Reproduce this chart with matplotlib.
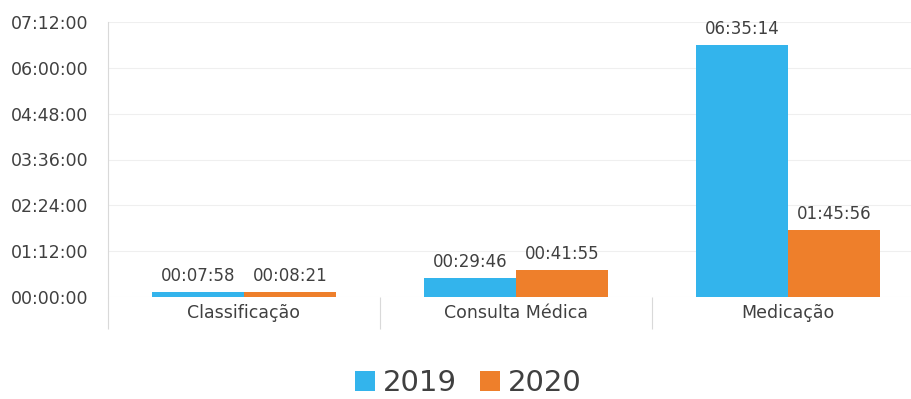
import matplotlib
matplotlib.use("Agg")
from matplotlib import pyplot as plt
from matplotlib.ticker import FixedLocator, FuncFormatter
import numpy as np

# Tempo médio por etapa (hh:mm:ss)
categorias = ["Classificação", "Consulta Médica", "Medicação"]
anos = ["2019", "2020"]
tempos_2019 = ["00:07:58", "00:29:46", "06:35:14"]
tempos_2020 = ["00:08:21", "00:41:55", "01:45:56"]
y_ticks = ["00:00:00", "01:12:00", "02:24:00", "03:36:00", "04:48:00", "06:00:00", "07:12:00"]

cores = ["#33b4ec", "#ee7f2b"]
cor_texto = "#404040"


def to_sec(t):
    h, m, s = [int(v) for v in t.split(":")]
    return h * 3600 + m * 60 + s


def fmt_hms(v, pos=None):
    v = int(round(v))
    return "%02d:%02d:%02d" % (v // 3600, (v % 3600) // 60, v % 60)


plt.rcParams['font.family'] = ['DejaVu Sans']

fig = plt.figure(figsize=(9.12, 3.99), dpi=100)
ax = fig.add_axes([108 / 912, 102 / 399, 816 / 912, 275 / 399])

x = np.arange(len(categorias))
largura = 0.34
series = [tempos_2019, tempos_2020]
for i, (serie, cor, ano) in enumerate(zip(series, cores, anos)):
    vals = [to_sec(t) for t in serie]
    pos = x + (i - 0.5) * largura
    ax.bar(pos, vals, width=largura, color=cor, label=ano, zorder=3)
    for px, v, t in zip(pos, vals, serie):
        ax.annotate(t, (px, v), xytext=(0, 5), textcoords="offset points",
                    ha="center", va="bottom", fontsize=12, color=cor_texto)

yt = [to_sec(t) for t in y_ticks]
ax.set_ylim(0, yt[-1])
ax.set_xlim(-0.5, len(categorias) - 0.5)
ax.yaxis.set_major_locator(FixedLocator(yt))
ax.yaxis.set_major_formatter(FuncFormatter(fmt_hms))
ax.tick_params(axis="y", length=0, pad=14, labelsize=12.5, labelcolor=cor_texto)
ax.grid(axis="y", color="#efefef", linewidth=0.8, zorder=0)

ax.set_xticks(x)
ax.set_xticklabels(categorias)
ax.tick_params(axis="x", which="major", length=0, pad=5, labelsize=12.5, labelcolor=cor_texto)
ax.set_xticks(np.arange(len(categorias) + 1) - 0.5, minor=True)
ax.tick_params(axis="x", which="minor", length=23, width=0.8, color="#d9d9d9")

for lado in ["top", "right", "bottom"]:
    ax.spines[lado].set_visible(False)
ax.spines["left"].set_color("#d9d9d9")
ax.spines["left"].set_linewidth(0.8)

fig.legend(loc="center", bbox_to_anchor=(468 / 912, 1 - 383 / 399), ncol=2, frameon=False,
           fontsize=21, handlelength=0.7, handleheight=0.7, handletextpad=0.25,
           columnspacing=0.8, labelcolor=cor_texto)

fig.savefig("out.png", dpi=100)
